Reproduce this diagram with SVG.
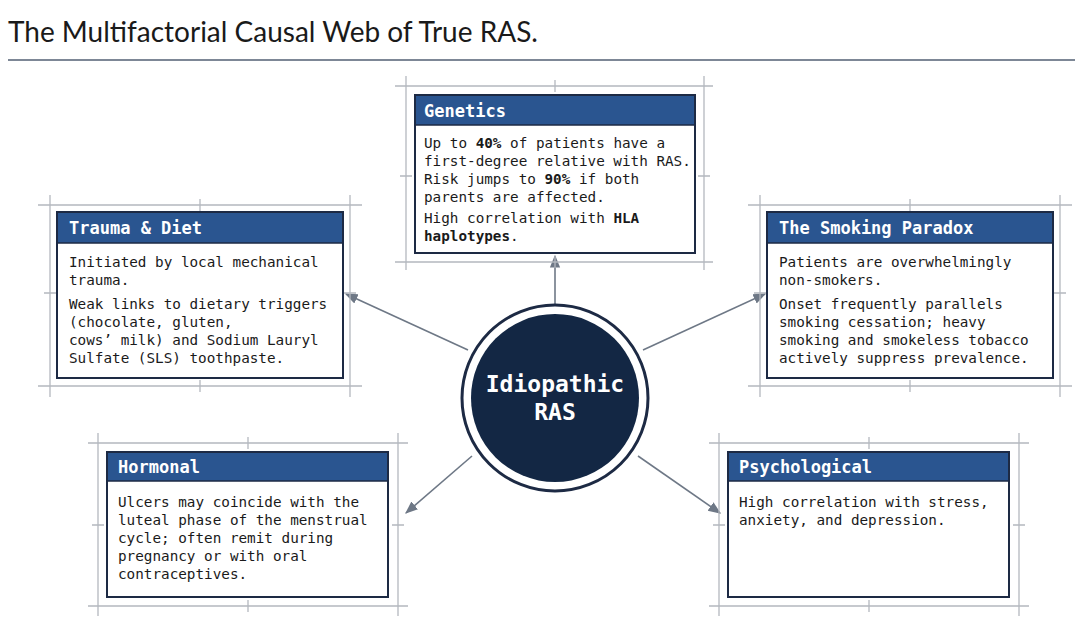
<svg xmlns="http://www.w3.org/2000/svg" width="1075" height="621" viewBox="0 0 1075 621">
<style>
.fr{stroke:#b4b8bf;stroke-width:1.3;fill:none}
.bx{fill:#fff;stroke:#1d2a44;stroke-width:2}
.hd{fill:#2a5590}
.ht{font-family:"DejaVu Sans Mono",monospace;font-weight:bold;font-size:17px;fill:#fff}
.bt{font-family:"DejaVu Sans Mono",monospace;font-size:14.3px;fill:#1a1a1a}
.b{font-weight:bold}
.cn{stroke:#6e7886;stroke-width:1.6;fill:none;marker-end:url(#ah)}
</style>
<defs>
<marker id="ah" viewBox="0 0 10 10" refX="9" refY="5" markerWidth="8" markerHeight="8" orient="auto"><path d="M0,1 L10,5 L0,9 z" fill="#6e7886"/></marker>
</defs>
<rect width="1075" height="621" fill="#fff"/>
<text x="8" y="42" font-family="Lato,'Liberation Sans',sans-serif" font-size="28" fill="#1a1a1a">The Multifactorial Causal Web of True RAS.</text>
<line x1="8" y1="60" x2="1075" y2="60" stroke="#7d8796" stroke-width="2"/>

<g id="connectors">
<line class="cn" x1="555" y1="308" x2="555" y2="256"/>
<line class="cn" x1="468" y1="350" x2="346" y2="294"/>
<line class="cn" x1="643" y1="350" x2="765" y2="294"/>
<line class="cn" x1="472" y1="456" x2="406" y2="513"/>
<line class="cn" x1="638" y1="456" x2="720" y2="513"/>
</g>

<g id="genetics">
<path class="fr" d="M395,86H713M395,262H713M406,76V270M704,76V270M555,80V92M555,256V268M400,176H412M698,176H710"/>
<rect class="bx" x="415" y="95" width="280" height="158"/>
<rect class="hd" x="416" y="96" width="278" height="29"/>
<line x1="415" y1="125" x2="695" y2="125" stroke="#1d2a44" stroke-width="1.5"/>
<text class="ht" x="424" y="117">Genetics</text>
<text class="bt"><tspan x="424" y="148">Up to <tspan class="b">40%</tspan> of patients have a</tspan><tspan x="424" y="166">first-degree relative with RAS.</tspan><tspan x="424" y="184">Risk jumps to <tspan class="b">90%</tspan> if both</tspan><tspan x="424" y="202">parents are affected.</tspan><tspan x="424" y="223">High correlation with <tspan class="b">HLA</tspan></tspan><tspan x="424" y="241" class="b">haplotypes<tspan font-weight="normal">.</tspan></tspan></text>
</g>

<g id="trauma">
<path class="fr" d="M38,205H362M38,386H362M50,195V397M350,195V397M200,199V211M200,380V392M44,293H56M344,293H356"/>
<rect class="bx" x="57" y="212" width="286" height="166"/>
<rect class="hd" x="58" y="213" width="284" height="30"/>
<line x1="57" y1="243" x2="343" y2="243" stroke="#1d2a44" stroke-width="1.5"/>
<text class="ht" x="69" y="234">Trauma &amp; Diet</text>
<text class="bt"><tspan x="69" y="267">Initiated by local mechanical</tspan><tspan x="69" y="285">trauma.</tspan><tspan x="69" y="309">Weak links to dietary triggers</tspan><tspan x="69" y="327">(chocolate, gluten,</tspan><tspan x="69" y="345">cows’ milk) and Sodium Lauryl</tspan><tspan x="69" y="363">Sulfate (SLS) toothpaste.</tspan></text>
</g>

<g id="smoking">
<path class="fr" d="M748,205H1072M748,386H1072M760,195V397M1060,195V397M910,199V211M910,380V392M754,293H766M1054,293H1066"/>
<rect class="bx" x="767" y="212" width="286" height="166"/>
<rect class="hd" x="768" y="213" width="284" height="30"/>
<line x1="767" y1="243" x2="1053" y2="243" stroke="#1d2a44" stroke-width="1.5"/>
<text class="ht" x="779" y="234">The Smoking Paradox</text>
<text class="bt"><tspan x="779" y="267">Patients are overwhelmingly</tspan><tspan x="779" y="285">non-smokers.</tspan><tspan x="779" y="309">Onset frequently parallels</tspan><tspan x="779" y="327">smoking cessation; heavy</tspan><tspan x="779" y="345">smoking and smokeless tobacco</tspan><tspan x="779" y="363">actively suppress prevalence.</tspan></text>
</g>

<g id="hormonal">
<path class="fr" d="M88,443H408M88,606H408M98,433V616M398,433V616M248,437V449M248,600V612M92,525H104M392,525H404"/>
<rect class="bx" x="107" y="452" width="281" height="145"/>
<rect class="hd" x="108" y="453" width="279" height="28"/>
<line x1="107" y1="481" x2="388" y2="481" stroke="#1d2a44" stroke-width="1.5"/>
<text class="ht" x="118" y="473">Hormonal</text>
<text class="bt"><tspan x="118" y="507">Ulcers may coincide with the</tspan><tspan x="118" y="525">luteal phase of the menstrual</tspan><tspan x="118" y="543">cycle; often remit during</tspan><tspan x="118" y="561">pregnancy or with oral</tspan><tspan x="118" y="579">contraceptives.</tspan></text>
</g>

<g id="psychological">
<path class="fr" d="M709,443H1029M709,606H1029M719,433V616M1019,433V616M869,437V449M869,600V612M713,525H725M1013,525H1025"/>
<rect class="bx" x="728" y="452" width="281" height="145"/>
<rect class="hd" x="729" y="453" width="279" height="28"/>
<line x1="728" y1="481" x2="1009" y2="481" stroke="#1d2a44" stroke-width="1.5"/>
<text class="ht" x="739" y="473">Psychological</text>
<text class="bt"><tspan x="739" y="507">High correlation with stress,</tspan><tspan x="739" y="525">anxiety, and depression.</tspan></text>
</g>

<g id="center">
<circle cx="555" cy="398" r="93" fill="#fff" stroke="#1d2a44" stroke-width="3"/>
<circle cx="555" cy="398" r="84" fill="#132744"/>
<text x="555" y="392" text-anchor="middle" font-family="'DejaVu Sans Mono',monospace" font-weight="bold" font-size="23" fill="#fff">Idiopathic</text>
<text x="555" y="420" text-anchor="middle" font-family="'DejaVu Sans Mono',monospace" font-weight="bold" font-size="23" fill="#fff">RAS</text>
</g>
</svg>
